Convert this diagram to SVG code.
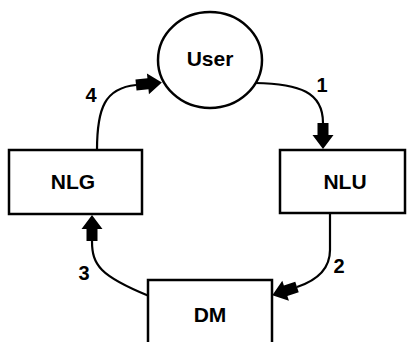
<svg xmlns="http://www.w3.org/2000/svg" width="407" height="342" viewBox="0 0 407 342">
  <style>
    .shape { fill: #fff; stroke: #000; stroke-width: 2.5; }
    .label { font-family: "Liberation Sans", Arial, sans-serif; font-weight: bold; font-size: 21px; fill: #000; text-anchor: middle; }
    .num { font-family: "Liberation Sans", Arial, sans-serif; font-weight: bold; font-size: 20px; fill: #000; text-anchor: middle; }
    .edge { fill: none; stroke: #000; stroke-width: 2.2; marker-end: url(#block); }
  </style>
  <defs>
    <!-- block arrow: short shaft then a triangular head; placed at the line's end -->
    <marker id="block" markerUnits="userSpaceOnUse" orient="auto" refX="0" refY="0"
            markerWidth="30" markerHeight="24" viewBox="-1 -12 30 24" overflow="visible">
      <path d="M0 -5.5 L12 -5.5 L12 -10.5 L26 0 L12 10.5 L12 5.5 L0 5.5 Z" fill="#000"/>
    </marker>
  </defs>

  <rect width="407" height="342" fill="#fff"/>

  <g id="connectors">
    <path id="edge-1" class="edge" d="M255 83 C 300 84, 323 92, 323 123"/>
    <path id="edge-2" class="edge" d="M330 214 L330 250 C 330 270, 315 281, 297 287"/>
    <path id="edge-3" class="edge" d="M149 296 C 100 276, 92 265, 92 241"/>
    <path id="edge-4" class="edge" d="M97 150 C 97 108, 105 88, 136 85"/>
    <text class="num" x="322" y="92">1</text>
    <text class="num" x="339" y="273">2</text>
    <text class="num" x="84" y="280">3</text>
    <text class="num" x="91" y="102">4</text>
  </g>

  <g id="user">
    <ellipse class="shape" cx="210" cy="60" rx="52" ry="48"/>
    <text class="label" x="210" y="66">User</text>
  </g>

  <g id="nlg">
    <rect class="shape" x="9" y="150" width="133" height="64"/>
    <text class="label" x="73" y="189">NLG</text>
  </g>

  <g id="nlu">
    <rect class="shape" x="280" y="150" width="125" height="63"/>
    <text class="label" x="345" y="189">NLU</text>
  </g>

  <g id="dm">
    <rect class="shape" x="148" y="280" width="124" height="80"/>
    <text class="label" x="210" y="322">DM</text>
  </g>
</svg>
